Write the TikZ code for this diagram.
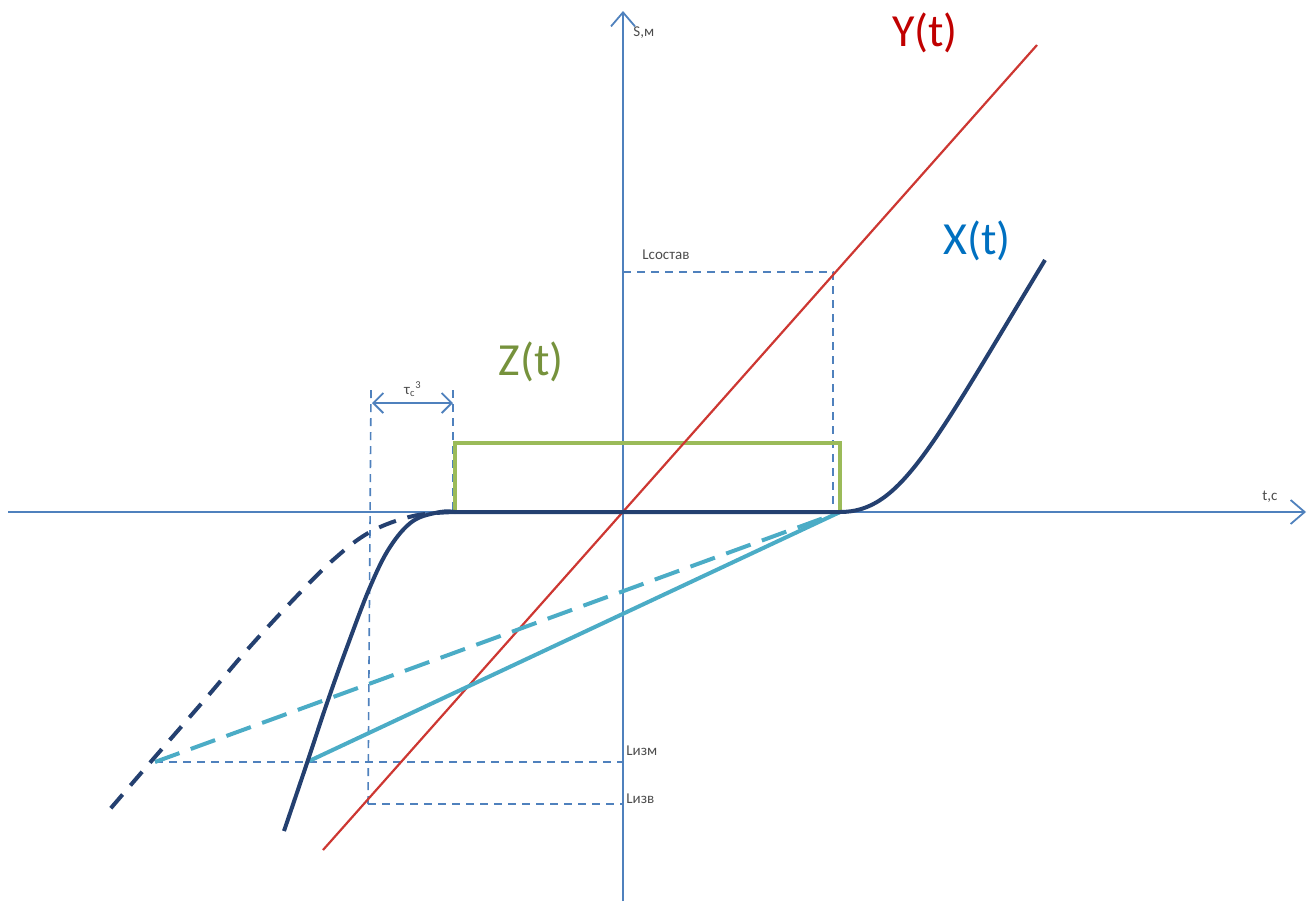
\documentclass[tikz,border=0pt]{standalone}
\usepackage{fontspec}
\setmainfont{Carlito}
\usetikzlibrary{arrows.meta}
\definecolor{axisblue}{RGB}{79,129,189}
\definecolor{curvenavy}{RGB}{36,64,112}
\definecolor{redline}{RGB}{205,55,50}
\definecolor{cyanline}{RGB}{75,172,198}
\definecolor{greenline}{RGB}{155,187,89}
\definecolor{ylabelc}{RGB}{192,0,0}
\definecolor{xlabelc}{RGB}{0,112,192}
\definecolor{zlabelc}{RGB}{118,146,60}
\tikzset{
  axisline/.style={draw=axisblue, line width=0.9pt, -{Straight Barb[length=7pt,width=12pt,line width=0.9pt]}},
  guide/.style={draw=axisblue, line width=0.8pt, dash pattern=on 4pt off 3pt},
  xcurve/.style={draw=curvenavy, line width=2pt},
  xdashed/.style={draw=curvenavy, line width=2pt, dash pattern=on 9pt off 6pt},
  ycurve/.style={draw=redline, line width=1.1pt},
  cyansolid/.style={draw=cyanline, line width=2pt},
  cyandashed/.style={draw=cyanline, line width=2pt, dash pattern=on 13pt off 6pt},
  zrect/.style={draw=greenline, line width=1.8pt},
  biglabel/.style={font=\fontsize{23}{27}\selectfont, inner sep=0pt},
  smalllabel/.style={font=\fontsize{7.5}{9}\selectfont, inner sep=0pt, text=black!70},
  widtharrow/.style={draw=axisblue, line width=0.9pt, {Straight Barb[length=5pt,width=10pt,line width=0.9pt]}-{Straight Barb[length=5pt,width=10pt,line width=0.9pt]}}
}
\begin{document}
\begin{tikzpicture}[x=0.5pt,y=-0.5pt]
\useasboundingbox (0,0) rectangle (1310,901);
% key points
\coordinate (O) at (623,512);
\coordinate (hstart) at (8,512);
\coordinate (hend) at (1306,512);
\coordinate (vstart) at (623,901);
\coordinate (vend) at (623,11);
\coordinate (Ystart) at (323,850);
\coordinate (Yend) at (1037,45);
\coordinate (Zleft) at (455,512);
\coordinate (Zright) at (840,512);
\coordinate (Zlt) at (455,443);
\coordinate (Zrt) at (840,443);
\coordinate (Pdash) at (155,762);
\coordinate (Psolid) at (307,762);
\coordinate (Lizm) at (623,762);
\coordinate (Lizvl) at (368,804);
\coordinate (Lizv) at (623,804);
\coordinate (Lsl) at (623,272);
\coordinate (Lsr) at (833,272);
\coordinate (Lsb) at (833,512);
\coordinate (Tl) at (371,390);
\coordinate (Tlb) at (368,804);
\coordinate (Tr) at (453,390);
\coordinate (Trb) at (453,512);
\coordinate (TAl) at (372,403);
\coordinate (TAr) at (453,403);

% guides (thin dashed)
\draw[guide] (Lsl) -- (Lsr) -- (Lsb);
\draw[guide] (Pdash) -- (Lizm);
\draw[guide] (Lizvl) -- (Lizv);
\draw[guide] (Tl) -- (Tlb);
\draw[guide] (Tr) -- (Trb);
\draw[widtharrow] (TAl) -- (TAr);

% axes
\draw[axisline] (hstart) -- (hend);
\draw[axisline] (vstart) -- (vend);

% Z(t) rectangle
\draw[zrect] (Zleft) -- (Zlt) -- (Zrt) -- (Zright);

% Y(t)
\draw[ycurve] (Ystart) -- (Yend);

% cyan lines
\draw[cyandashed] (Pdash) -- (Zright);
\draw[cyansolid] (Psolid) -- (Zright);

% X(t) dashed branch
\draw[xdashed] plot[smooth, tension=0.6] coordinates {(455,512) (413,516) (370,532) (333,560) (293,600) (247,650) (207,697) (148,765) (105,815)};

% X(t) solid
\draw[xcurve] plot[smooth, tension=0.6] coordinates {(284,831) (307,763) (327,703) (347,647) (370,587) (390,547) (413,521) (440,512) (455,512)} -- (Zright) .. controls (900,512) and (930,450) .. (1045,260);

% labels
\node[biglabel, text=ylabelc] (ylab) at (925,33) {Y(t)};
\node[biglabel, text=xlabelc] (xlab) at (977,241) {X(t)};
\node[biglabel, text=zlabelc] (zlab) at (531,362) {Z(t)};
\node[smalllabel, anchor=west] (slab) at (633,33) {S,м};
\node[smalllabel] (tlab) at (1270,497) {t,c};
\node[smalllabel, anchor=west] (lsost) at (642,255) {Lсостав};
\node[smalllabel, anchor=west] (lizm) at (626,751) {Lизм};
\node[smalllabel, anchor=west] (lizv) at (626,799) {Lизв};
\node[smalllabel] (tau) at (413,389) {τ\textsubscript{c}\textsuperscript{3}};
\end{tikzpicture}
\end{document}
